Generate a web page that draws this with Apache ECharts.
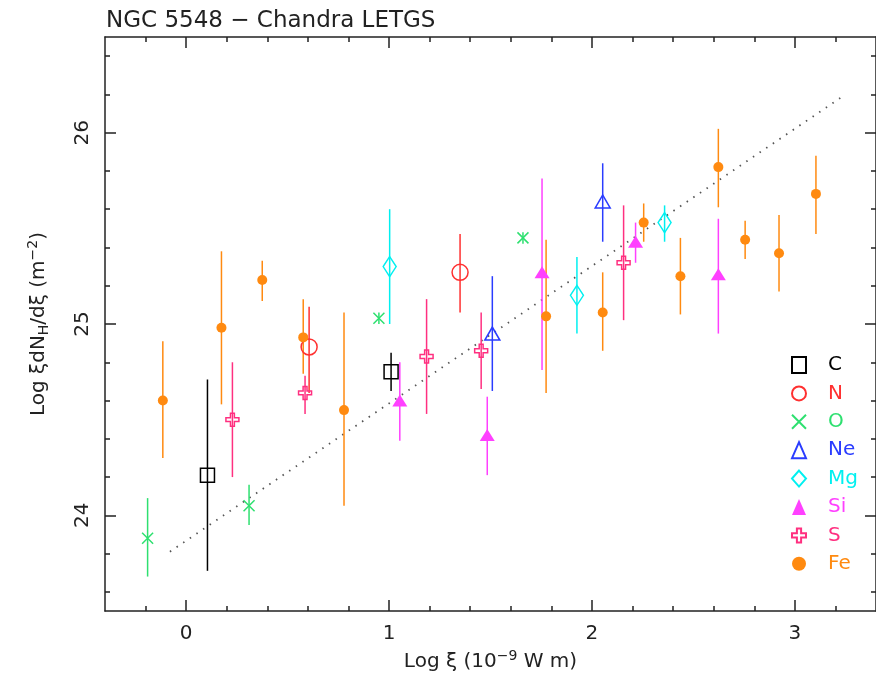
<!DOCTYPE html>
<html><head><meta charset="utf-8">
<script src="https://cdn.jsdelivr.net/npm/echarts@6/dist/echarts.min.js"></script>
<style>html,body{margin:0;padding:0;background:#fff}#c{width:876px;height:677px}</style>
</head><body><div id="c"></div>
<script>
// Tick values
const xMajorTicks = [0, 1, 2, 3];
const xMinorTicks = [-0.2, 0, 0.2, 0.4, 0.6, 0.8, 1, 1.2, 1.4, 1.6, 1.8, 2, 2.2, 2.4, 2.6, 2.8, 3, 3.2];
const yMajorTicks = [24, 25, 26];
const yMinorTicks = [23.6, 23.8, 24, 24.2, 24.4, 24.6, 24.8, 25, 25.2, 25.4, 25.6, 25.8, 26, 26.2, 26.4];

// [log xi, log xi dNH/dxi, lower, upper]
const dataC  = [[0.105, 24.21, 23.71, 24.71], [1.01, 24.75, 24.65, 24.85]];
const dataN  = [[0.606, 24.88, 24.64, 25.09], [1.35, 25.27, 25.06, 25.47]];
const dataO  = [[-0.19, 23.88, 23.68, 24.09], [0.31, 24.05, 23.95, 24.16], [0.95, 25.03, 25.00, 25.06], [1.66, 25.45, 25.42, 25.48]];
const dataNe = [[1.509, 24.95, 24.65, 25.25], [2.053, 25.64, 25.43, 25.84]];
const dataMg = [[1.003, 25.30, 25.00, 25.60], [1.926, 25.15, 24.95, 25.35], [2.358, 25.53, 25.43, 25.62]];
const dataSi = [[1.053, 24.60, 24.39, 24.80], [1.484, 24.42, 24.21, 24.62], [1.754, 25.27, 24.76, 25.76], [2.215, 25.43, 25.32, 25.53], [2.623, 25.26, 24.95, 25.55]];
const dataS  = [[0.228, 24.50, 24.20, 24.80], [0.586, 24.64, 24.53, 24.73], [1.185, 24.83, 24.53, 25.13], [1.454, 24.86, 24.66, 25.06], [2.156, 25.32, 25.02, 25.62]];
const dataFe = [[-0.115, 24.60, 24.30, 24.91], [0.174, 24.98, 24.58, 25.38], [0.375, 25.23, 25.12, 25.33], [0.577, 24.93, 24.74, 25.13],
                [0.778, 24.55, 24.05, 25.06], [1.774, 25.04, 24.64, 25.44], [2.053, 25.06, 24.86, 25.27], [2.255, 25.53, 25.43, 25.63],
                [2.436, 25.25, 25.05, 25.45], [2.623, 25.82, 25.61, 26.02], [2.755, 25.44, 25.34, 25.54], [2.922, 25.37, 25.17, 25.57],
                [3.104, 25.68, 25.47, 25.88]];
const fitLine = [[-0.08, 23.81], [3.25, 26.20]];

const elements = ['C', 'N', 'O', 'Ne', 'Mg', 'Si', 'S', 'Fe'];
const elementData = [dataC, dataN, dataO, dataNe, dataMg, dataSi, dataS, dataFe];
const colors = ['#000000', '#ff3030', '#2ee070', '#2a3cff', '#00f0f0', '#ff40ff', '#ff3080', '#ff8a10'];
const symbols = ['rect', 'circle', 'path://M0,0L10,10M10,0L0,10', 'triangle', 'diamond', 'triangle',
                 'path://M3.5,0H6.5V3.5H10V6.5H6.5V10H3.5V6.5H0V3.5H3.5Z', 'circle'];
const symbolSizes = [14, 16, 11, [15, 13], [13, 20], [15, 12], 13, 10];
const hollow = [true, true, true, true, true, false, true, false];

const FONT = '"DejaVu Sans", sans-serif';
const TXT = '#222';
const chart = echarts.init(document.getElementById('c'));

const axLine = {show: true, onZero: false, lineStyle: {color: '#222', width: 1.5}};
const noLine = {show: false, onZero: false};
const tickStyle = {color: '#222', width: 1.5};
function xAx(pos, major, withLabels) {
  const a = {
    type: 'value', position: pos, min: -0.4, max: 3.4, gridIndex: 0,
    axisLine: major ? noLine : axLine,
    axisTick: {show: true, inside: true, length: major ? 11 : 5, customValues: major ? xMajorTicks : xMinorTicks, lineStyle: tickStyle},
    axisLabel: {show: !!withLabels, customValues: xMajorTicks, margin: 13, color: TXT, fontSize: 20, fontFamily: FONT},
    splitLine: {show: false}
  };
  if (withLabels) {
    a.name = 'Log ξ (10{sup|−9} W m)';
    a.nameLocation = 'middle';
    a.nameGap = 38;
    a.nameTextStyle = {color: TXT, fontSize: 20, fontFamily: FONT,
      rich: {sup: {fontSize: 14, fontFamily: FONT, color: TXT, padding: [0, 0, 12, 0]}}};
  }
  return a;
}
function yAx(pos, major, withLabels) {
  const a = {
    type: 'value', position: pos, min: 23.5, max: 26.5, gridIndex: 0,
    axisLine: major ? noLine : axLine,
    axisTick: {show: true, inside: true, length: major ? 11 : 5, customValues: major ? yMajorTicks : yMinorTicks, lineStyle: tickStyle},
    axisLabel: {show: !!withLabels, customValues: yMajorTicks, rotate: 90, margin: 12, color: TXT, fontSize: 20, fontFamily: FONT},
    splitLine: {show: false}
  };
  if (withLabels) {
    a.name = 'Log ξdN{sub|H}/dξ (m{sup|−2})';
    a.nameLocation = 'middle';
    a.nameRotate = 90;
    a.nameGap = 53;
    a.nameTextStyle = {color: TXT, fontSize: 20, fontFamily: FONT,
      rich: {sup: {fontSize: 14, fontFamily: FONT, color: TXT, padding: [0, 0, 12, 0]},
             sub: {fontSize: 14, fontFamily: FONT, color: TXT, padding: [10, 0, 0, 0]}}};
  }
  return a;
}

const series = [];
series.push({
  type: 'line', name: 'fit', data: fitLine, xAxisIndex: 0, yAxisIndex: 0, symbol: 'none', silent: true,
  lineStyle: {color: '#555', width: 1.8, type: [1.5, 6.5]}, z: 1
});
elements.forEach((el, i) => {
  const col = colors[i];
  series.push({
    type: 'custom', name: el + ' err', data: elementData[i], xAxisIndex: 0, yAxisIndex: 0,
    encode: {x: 0, y: [1, 2, 3]}, z: 2, silent: true,
    renderItem: function (params, api) {
      const p1 = api.coord([api.value(0), api.value(2)]);
      const p2 = api.coord([api.value(0), api.value(3)]);
      return {type: 'line', shape: {x1: p1[0], y1: p1[1], x2: p2[0], y2: p2[1]},
              style: {stroke: col, lineWidth: 1.5}};
    }
  });
  series.push({
    type: 'scatter', name: el, data: elementData[i].map(d => [d[0], d[1]]), xAxisIndex: 0, yAxisIndex: 0,
    symbol: symbols[i], symbolSize: symbolSizes[i], z: 3,
    itemStyle: hollow[i] ? {color: 'rgba(255,255,255,0)', borderColor: col, borderWidth: 1.5, opacity: 1}
                         : {color: col, borderWidth: 0, opacity: 1}
  });
});

chart.setOption({
  animation: false,
  backgroundColor: '#fff',
  title: {text: 'NGC 5548 − Chandra LETGS', left: 101, top: 5,
    textStyle: {color: TXT, fontSize: 23, fontWeight: 'normal', fontFamily: FONT}},
  grid: {left: 105, right: -3, top: 37, bottom: 61, containLabel: false},
  xAxis: [xAx('bottom', false, true), xAx('bottom', true, false), xAx('top', false, false), xAx('top', true, false)],
  yAxis: [yAx('left', false, true), yAx('left', true, false), yAx('right', false, false), yAx('right', true, false)],
  legend: {
    orient: 'vertical', left: 786, top: 350, itemWidth: 14, itemHeight: 16, itemGap: 8.4,
    selectedMode: false,
    textStyle: {fontSize: 20, fontFamily: FONT, padding: [0, 0, 0, 17]},
    data: elements.map((el, i) => ({name: el, textStyle: {color: colors[i]}}))
  },
  series: series
});
</script></body></html>
